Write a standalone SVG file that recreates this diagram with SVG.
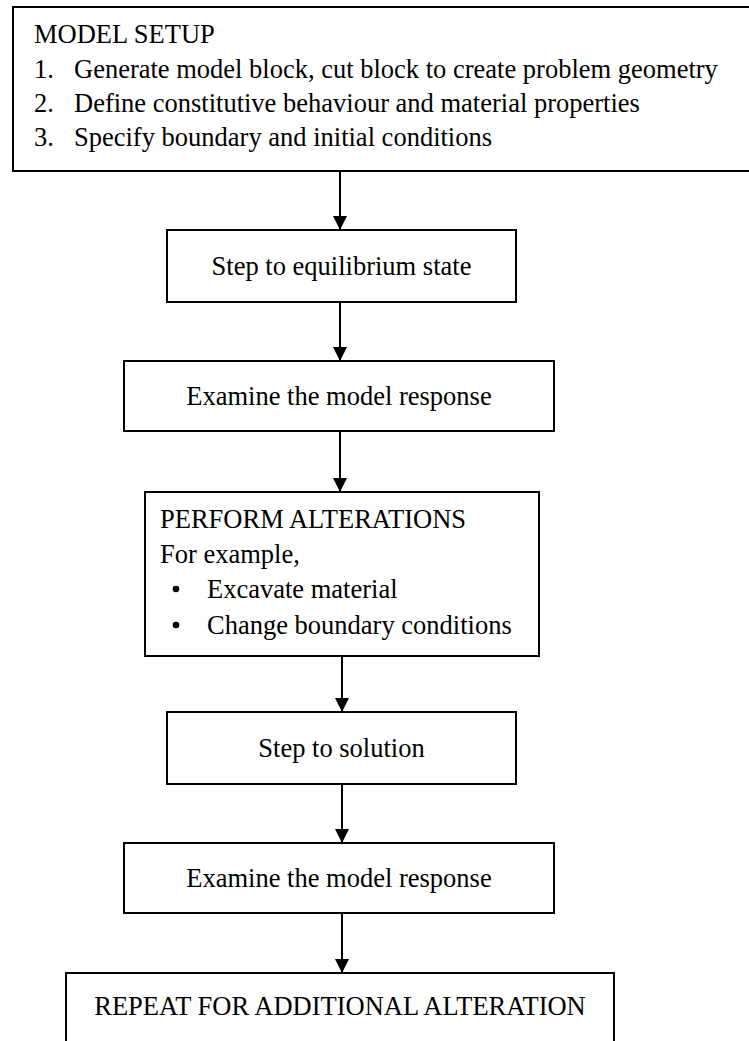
<svg xmlns="http://www.w3.org/2000/svg" width="749" height="1041" viewBox="0 0 749 1041">
  <style>
    .box { fill: #ffffff; stroke: #000000; stroke-width: 2; }
    .t { font-family: "Liberation Serif", "Times New Roman", serif; font-size: 26.5px; fill: #000000; }
    .c { text-anchor: middle; }
    .conn { stroke: #000000; stroke-width: 2; fill: none; }
  </style>
  <defs>
    <marker id="ah" markerUnits="userSpaceOnUse" markerWidth="14" markerHeight="14" refX="14" refY="7" orient="auto">
      <path d="M0,0 L14,7 L0,14 z" fill="#000000"/>
    </marker>
  </defs>
  <rect width="749" height="1041" fill="#ffffff"/>

  <g id="model-setup">
    <rect class="box" x="13" y="7" width="760" height="164"/>
    <text class="t" x="34" y="43">MODEL SETUP</text>
    <text class="t" x="34" y="78">1.</text>
    <text class="t" x="74" y="78">Generate model block, cut block to create problem geometry</text>
    <text class="t" x="34" y="112">2.</text>
    <text class="t" x="74" y="112">Define constitutive behaviour and material properties</text>
    <text class="t" x="34" y="146">3.</text>
    <text class="t" x="74" y="146">Specify boundary and initial conditions</text>
  </g>

  <g id="step-equilibrium">
    <rect class="box" x="167" y="230" width="349" height="72"/>
    <text class="t c" x="341.5" y="275">Step to equilibrium state</text>
  </g>

  <g id="examine-1">
    <rect class="box" x="124" y="361" width="430" height="70"/>
    <text class="t c" x="339" y="405">Examine the model response</text>
  </g>

  <g id="perform-alterations">
    <rect class="box" x="145" y="492" width="394" height="164"/>
    <text class="t" x="160" y="528">PERFORM ALTERATIONS</text>
    <text class="t" x="160" y="563">For example,</text>
    <circle cx="176" cy="589" r="3.3" fill="#000000"/>
    <text class="t" x="207" y="598">Excavate material</text>
    <circle cx="176" cy="625" r="3.3" fill="#000000"/>
    <text class="t" x="207" y="634">Change boundary conditions</text>
  </g>

  <g id="step-solution">
    <rect class="box" x="167" y="712" width="349" height="72"/>
    <text class="t c" x="341.5" y="757">Step to solution</text>
  </g>

  <g id="examine-2">
    <rect class="box" x="124" y="843" width="430" height="70"/>
    <text class="t c" x="339" y="887">Examine the model response</text>
  </g>

  <g id="repeat">
    <rect class="box" x="66" y="973" width="548" height="100"/>
    <text class="t c" x="340" y="1015">REPEAT FOR ADDITIONAL ALTERATION</text>
  </g>

  <g id="connectors">
    <line class="conn" x1="340" y1="171" x2="340" y2="230" marker-end="url(#ah)"/>
    <line class="conn" x1="340" y1="302" x2="340" y2="361" marker-end="url(#ah)"/>
    <line class="conn" x1="340" y1="431" x2="340" y2="492" marker-end="url(#ah)"/>
    <line class="conn" x1="342" y1="656" x2="342" y2="712" marker-end="url(#ah)"/>
    <line class="conn" x1="342" y1="784" x2="342" y2="843" marker-end="url(#ah)"/>
    <line class="conn" x1="342" y1="913" x2="342" y2="973" marker-end="url(#ah)"/>
  </g>
</svg>
